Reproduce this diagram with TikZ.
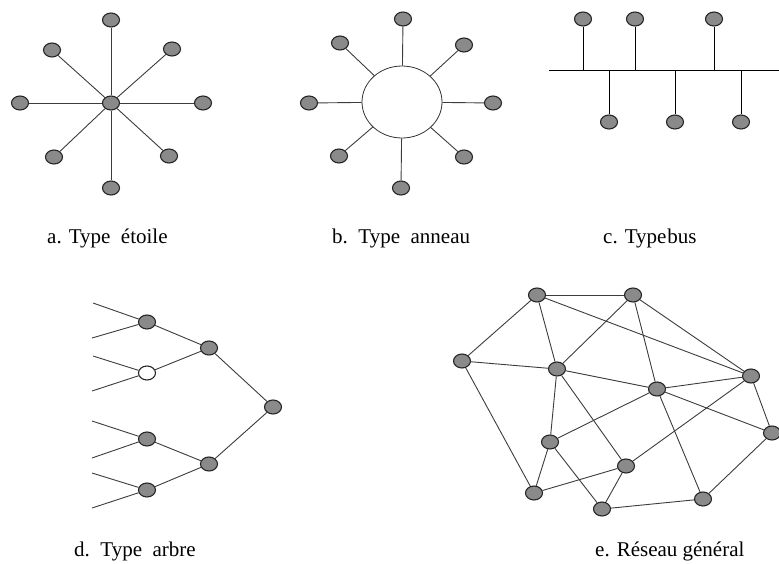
\documentclass[tikz,border=0pt]{standalone}
\usepackage{fontspec}
\setmainfont{Liberation Serif}
\usetikzlibrary{shapes.geometric}
\definecolor{nodegray}{RGB}{138,138,138}
\definecolor{edgegray}{RGB}{60,60,60}
\begin{document}
\begin{tikzpicture}[x=1pt,y=-1pt,
  host/.style={ellipse,draw=black!85,line width=1.1pt,fill=nodegray,minimum width=17pt,minimum height=14pt,inner sep=0pt},
  whitehost/.style={host,fill=white},
  ring/.style={ellipse,draw=black!80,line width=0.8pt,fill=white,minimum width=80pt,minimum height=72pt,inner sep=0pt},
  link/.style={draw=edgegray,line width=0.9pt},
  buslink/.style={draw=black,line width=1pt},
  caption/.style={anchor=base west,inner sep=0pt,font=\fontsize{21}{24}\selectfont}]
\useasboundingbox (0,0) rectangle (779,563);

% a. star
\node[host] (sc) at (111,103) {};
\node[host] (s1) at (111,20) {};
\node[host] (s2) at (172,49) {};
\node[host] (s3) at (203,103) {};
\node[host] (s4) at (169,156) {};
\node[host] (s5) at (111,188) {};
\node[host] (s6) at (54,157) {};
\node[host] (s7) at (20,103) {};
\node[host] (s8) at (52,50) {};
\foreach \i in {1,...,8} \draw[link] (sc) -- (s\i);

% b. ring
\node[ring] (rc) at (402,102) {};
\node[host] (r1) at (403,19) {};
\node[host] (r2) at (464,45) {};
\node[host] (r3) at (493,103) {};
\node[host] (r4) at (464,157) {};
\node[host] (r5) at (401,188) {};
\node[host] (r6) at (339,156) {};
\node[host] (r7) at (309,103) {};
\node[host] (r8) at (340,43) {};
\foreach \i in {1,...,8} \draw[link] (rc) -- (r\i);

% c. bus
\coordinate (bl) at (549,70);
\coordinate (br) at (779,70);
\draw[buslink] (bl) -- (br);
\node[host] (u1) at (583,19) {};
\node[host] (u2) at (635,19) {};
\node[host] (u3) at (714,19) {};
\node[host] (d1) at (609,122) {};
\node[host] (d2) at (675,122) {};
\node[host] (d3) at (741,122) {};
\foreach \n in {u1,u2,u3,d1,d2,d3} \draw[buslink] (\n) -- (\n |- bl);

% d. tree
\node[host] (t1) at (147,322) {};
\node[whitehost] (t2) at (147,373) {};
\node[host] (t3) at (209,348) {};
\node[host] (tr) at (273,407) {};
\node[host] (t4) at (147,439) {};
\node[host] (t5) at (147,490) {};
\node[host] (t6) at (209,464) {};
\coordinate (l1) at (93,303);
\coordinate (l2) at (92,338);
\coordinate (l3) at (93,356);
\coordinate (l4) at (92,391);
\coordinate (l5) at (92,421);
\coordinate (l6) at (92,458);
\coordinate (l7) at (92,473);
\coordinate (l8) at (92,508);
\draw[link] (t1) -- (l1);
\draw[link] (t1) -- (l2);
\draw[link] (t2) -- (l3);
\draw[link] (t2) -- (l4);
\draw[link] (t4) -- (l5);
\draw[link] (t4) -- (l6);
\draw[link] (t5) -- (l7);
\draw[link] (t5) -- (l8);
\draw[link] (t1) -- (t3);
\draw[link] (t2) -- (t3);
\draw[link] (t4) -- (t6);
\draw[link] (t5) -- (t6);
\draw[link] (t3) -- (tr);
\draw[link] (t6) -- (tr);

% e. general network
\node[host] (A) at (537,295) {};
\node[host] (B) at (633,295) {};
\node[host] (C) at (462,361) {};
\node[host] (D) at (557,369) {};
\node[host] (E) at (657,389) {};
\node[host] (F) at (751,376) {};
\node[host] (G) at (772,433) {};
\node[host] (H) at (550,442) {};
\node[host] (I) at (626,466) {};
\node[host] (J) at (534,493) {};
\node[host] (K) at (602,509) {};
\node[host] (L) at (703,499) {};
\foreach \a/\b in {A/B,A/C,A/D,A/F,B/D,B/E,B/F,C/D,C/J,D/E,D/H,D/I,E/F,E/H,E/G,E/L,F/I,F/G,G/L,H/K,H/J,I/J,I/K,K/L}
  \draw[link] (\a) -- (\b);

% captions
\node[caption] (ca) at (47,243) {a. Type\ \ étoile};
\node[caption] (cb) at (332,243) {b.\ \ Type\ \ anneau};
\node[caption] (cc) at (603,243) {c. Type\hspace{1pt}bus};
\node[caption] (cd) at (74,556) {d.\ \ Type\ \ arbre};
\node[caption] (ce) at (595,556) {e. Réseau général};
\end{tikzpicture}
\end{document}
